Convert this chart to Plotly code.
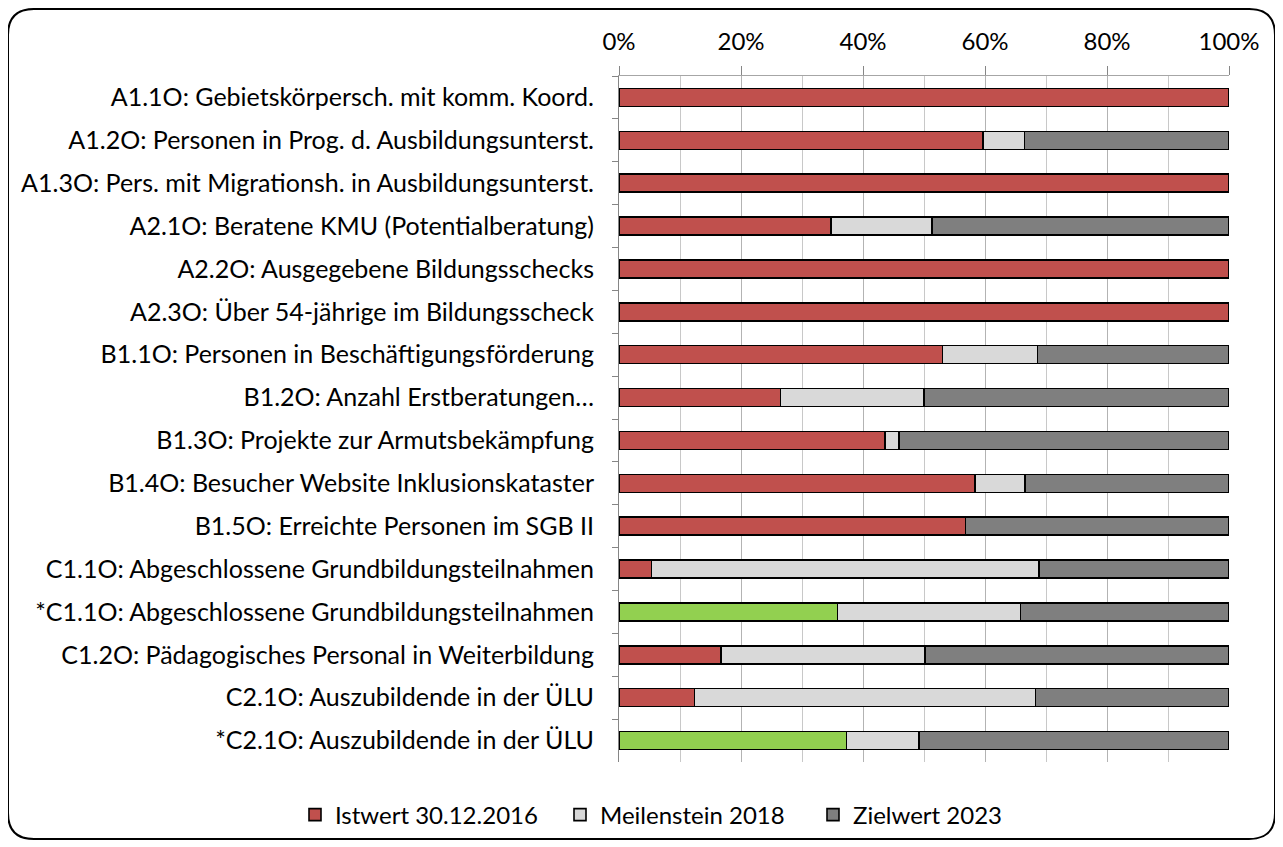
import plotly.graph_objects as go

categories = [
    "A1.1O: Gebietskörpersch. mit komm. Koord.",
    "A1.2O: Personen in Prog. d. Ausbildungsunterst.",
    "A1.3O: Pers. mit Migrationsh. in Ausbildungsunterst.",
    "A2.1O: Beratene KMU (Potentialberatung)",
    "A2.2O: Ausgegebene Bildungsschecks",
    "A2.3O: Über 54-jährige im Bildungsscheck",
    "B1.1O: Personen in Beschäftigungsförderung",
    "B1.2O: Anzahl Erstberatungen…",
    "B1.3O: Projekte zur Armutsbekämpfung",
    "B1.4O: Besucher Website Inklusionskataster",
    "B1.5O: Erreichte Personen im SGB II",
    "C1.1O: Abgeschlossene Grundbildungsteilnahmen",
    "*C1.1O: Abgeschlossene Grundbildungsteilnahmen",
    "C1.2O: Pädagogisches Personal in Weiterbildung",
    "C2.1O: Auszubildende in der ÜLU",
    "*C2.1O: Auszubildende in der ÜLU",
]

istwert = [100, 59.7, 100, 34.8, 100, 100, 53.0, 26.5, 43.6, 58.4, 56.8, 5.3, 35.8, 16.7, 12.4, 37.3]
meilenstein = [0, 6.8, 0, 16.5, 0, 0, 15.6, 23.5, 2.3, 8.2, 0, 63.6, 30.0, 33.5, 55.9, 11.9]
zielwert = [0, 33.5, 0, 48.7, 0, 0, 31.4, 50.0, 54.1, 33.4, 43.2, 31.1, 34.2, 49.8, 31.7, 50.8]
starred = [c.startswith("*") for c in categories]

series_names = ["Istwert 30.12.2016", "Meilenstein 2018", "Zielwert 2023"]
tick_pct = [0, 20, 40, 60, 80, 100]
tick_text = [f"{v}%" for v in tick_pct]

RED = "#C0504D"
GREEN = "#92D050"
LIGHT = "#D9D9D9"
GRAY = "#7F7F7F"

ist_colors = [GREEN if s else RED for s in starred]

FONT = "Lato"

# page is offset by 8px (body margin), so figure coords = page coords - 8
W, H = 1275, 839
L, R, T, B = 611, 1221, 68, 754

fig = go.Figure()
bar_line = dict(color="#000000", width=1.6)
fig.add_trace(go.Bar(name=series_names[0], x=istwert, y=categories, orientation="h",
                     width=0.42, marker=dict(color=ist_colors, line=bar_line),
                     legend="legend"))
fig.add_trace(go.Bar(name=series_names[1], x=meilenstein, y=categories, orientation="h",
                     width=0.42, marker=dict(color=LIGHT, line=bar_line),
                     legend="legend2"))
fig.add_trace(go.Bar(name=series_names[2], x=zielwert, y=categories, orientation="h",
                     width=0.42, marker=dict(color=GRAY, line=bar_line),
                     legend="legend3"))

def px2paper(px, py):
    return (px - L) / (R - L), (B - py) / (B - T)

# rounded chart border (figure px)
x0p, y0p, x1p, y1p, rad = 0, 1, 1267, 831, 26
def P(px, py):
    a, b = px2paper(px, py)
    return f"{a:.5f},{b:.5f}"
path = (f"M {P(x0p+rad, y0p)} L {P(x1p-rad, y0p)} Q {P(x1p, y0p)} {P(x1p, y0p+rad)} "
        f"L {P(x1p, y1p-rad)} Q {P(x1p, y1p)} {P(x1p-rad, y1p)} "
        f"L {P(x0p+rad, y1p)} Q {P(x0p, y1p)} {P(x0p, y1p-rad)} "
        f"L {P(x0p, y0p+rad)} Q {P(x0p, y0p)} {P(x0p+rad, y0p)} Z")

leg_font = dict(family=FONT, size=24, color="#000000")
leg_y = 1 - 807 / H
def leg(xpx):
    return dict(orientation="h", xref="container", yref="container",
                x=xpx / W, xanchor="left", y=leg_y, yanchor="middle",
                font=leg_font, itemwidth=30, bgcolor="rgba(0,0,0,0)", borderwidth=0)

fig.update_layout(
    barmode="stack",
    width=W, height=H,
    margin=dict(l=L, r=W - R, t=T, b=H - B, pad=0),
    paper_bgcolor="white", plot_bgcolor="white",
    font=dict(family=FONT, size=24, color="#000000"),
    showlegend=True,
    legend=leg(287), legend2=leg(552), legend3=leg(805),
    shapes=[dict(type="path", xref="paper", yref="paper", path=path,
                 line=dict(color="#000000", width=2), fillcolor="rgba(0,0,0,0)",
                 layer="below")],
    xaxis=dict(side="top", range=[0, 100], tickvals=tick_pct, ticktext=tick_text,
               showgrid=True, gridcolor="#B3B3B3", gridwidth=1,
               minor=dict(dtick=10, tick0=0, showgrid=True, gridcolor="#C8C8C8", gridwidth=1),
               ticks="outside", ticklen=9, tickcolor="#868686", tickwidth=1,
               showline=True, linecolor="#A6A6A6", linewidth=1,
               zeroline=False, fixedrange=True, ticklabelstandoff=6),
    yaxis=dict(autorange="reversed", type="category", tickson="boundaries",
               ticks="outside", ticklen=6, tickcolor="#868686", tickwidth=1,
               showline=True, linecolor="#868686", linewidth=1, showgrid=False,
               tickfont=dict(family=FONT, size=25, color="#000000"),
               ticklabelstandoff=19),
)

fig.write_html("out.html")
